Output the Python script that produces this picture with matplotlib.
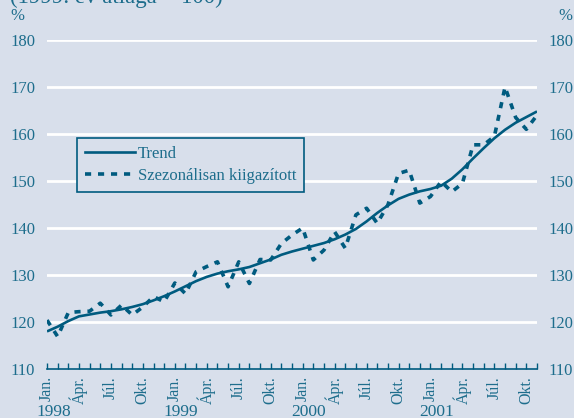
import matplotlib.pyplot as plt
import matplotlib.transforms as mtransforms
import numpy as np
from matplotlib.lines import Line2D

# monthly data, Jan 1998 .. Nov 2001
trend = [118.0, 119.0, 120.2, 121.2, 121.6, 122.0, 122.3, 122.7, 123.2, 123.8, 124.6, 125.5,
         126.5, 127.6, 128.7, 129.6, 130.3, 130.8, 131.2, 131.7, 132.5, 133.3, 134.3, 135.0,
         135.6, 136.2, 136.8, 137.6, 138.6, 139.8, 141.4, 143.2, 144.8, 146.2, 147.1, 147.8,
         148.3, 149.0, 150.5, 152.5, 154.8, 157.0, 159.1, 160.9, 162.4, 163.6, 164.8]
seas_adj = [120.4, 116.9, 122.0, 122.2, 122.3, 124.0, 121.5, 123.6, 121.5, 123.2, 125.4, 124.3,
            128.3, 126.0, 130.7, 131.8, 132.8, 127.5, 132.8, 128.2, 133.3, 133.2, 136.7, 138.5,
            140.0, 133.2, 135.3, 139.2, 135.7, 142.8, 144.2, 141.0, 144.9, 151.6, 152.3, 145.3,
            146.7, 149.9, 147.7, 149.5, 157.7, 157.7, 159.5, 170.0, 163.5, 161.0, 164.0]
month_names = ['Jan.', 'Ápr.', 'Júl.', 'Okt.']
years = ['1998', '1999', '2000', '2001']
yticks = [110, 120, 130, 140, 150, 160, 170, 180]

bg = '#d8dfeb'
txt = '#1d6d8c'
lc = '#005b7f'

plt.rcParams['font.family'] = ['Liberation Serif', 'DejaVu Serif']

fig = plt.figure(figsize=(5.74, 4.18), dpi=100, facecolor=bg)
ax = fig.add_axes([47/574, 1-369/418, 490/574, 329/418])
ax.set_facecolor(bg)

x = np.arange(len(trend))
ax.plot(x, trend, color=lc, lw=1.9, zorder=5, solid_capstyle='butt')
ax.plot(x, seas_adj, color=lc, lw=2.6, dashes=(1.7, 1.9), zorder=5)

ax.set_xlim(0, len(trend) - 1)
ax.set_ylim(110, 180)

for v in yticks[1:]:
    ax.axhline(v, color='white', lw=2, zorder=1)

for s in ['left', 'right', 'top']:
    ax.spines[s].set_visible(False)
ax.spines['bottom'].set_color(lc)
ax.spines['bottom'].set_linewidth(1.2)

ax.set_xticks(x)
labels = [month_names[(i // 3) % 4] if i % 3 == 0 else '' for i in range(len(x))]
ax.set_xticklabels(labels, rotation=90, fontsize=11.5, color=txt, va='top')
ax.tick_params(axis='x', direction='in', length=4, width=1, color=lc, pad=5)

ax.set_yticks(yticks)
ax.tick_params(axis='y', length=0, labelsize=12, labelcolor=txt, pad=8.5,
               labelleft=True, labelright=True)

year_tr = mtransforms.blended_transform_factory(ax.transData, fig.transFigure)
for k, yr in enumerate(years):
    ax.text(12 * k + 0.6, 1 - 404/418, yr, transform=year_tr,
            ha='center', va='top', fontsize=12.5, color=txt)

fig.text(10/574, 1 - 16/418, '%', fontsize=12, color=txt, ha='left', va='center')
fig.text(572/574, 1 - 16/418, '%', fontsize=12, color=txt, ha='right', va='center')
fig.text(10/574, 1 - 3/418, '(1999. év átlaga = 100)', fontsize=16.5, color=txt,
         ha='left', va='baseline')

handles = [Line2D([], [], color=lc, lw=1.9),
           Line2D([], [], color=lc, lw=2.6, dashes=(1.7, 1.9))]
leg = ax.legend(handles, ['Trend', 'Szezonálisan kiigazított'], loc='upper left',
                bbox_to_anchor=((77-47)/490, (369-138)/329), frameon=True,
                fancybox=False, facecolor=bg, edgecolor=lc, framealpha=1,
                fontsize=12, labelcolor=txt, handlelength=3.0, handletextpad=0.2,
                borderpad=0.45, labelspacing=0.4, borderaxespad=0)
leg.get_frame().set_linewidth(1.2)
leg.set_zorder(10)

fig.savefig('out.png', dpi=100, facecolor=bg)
